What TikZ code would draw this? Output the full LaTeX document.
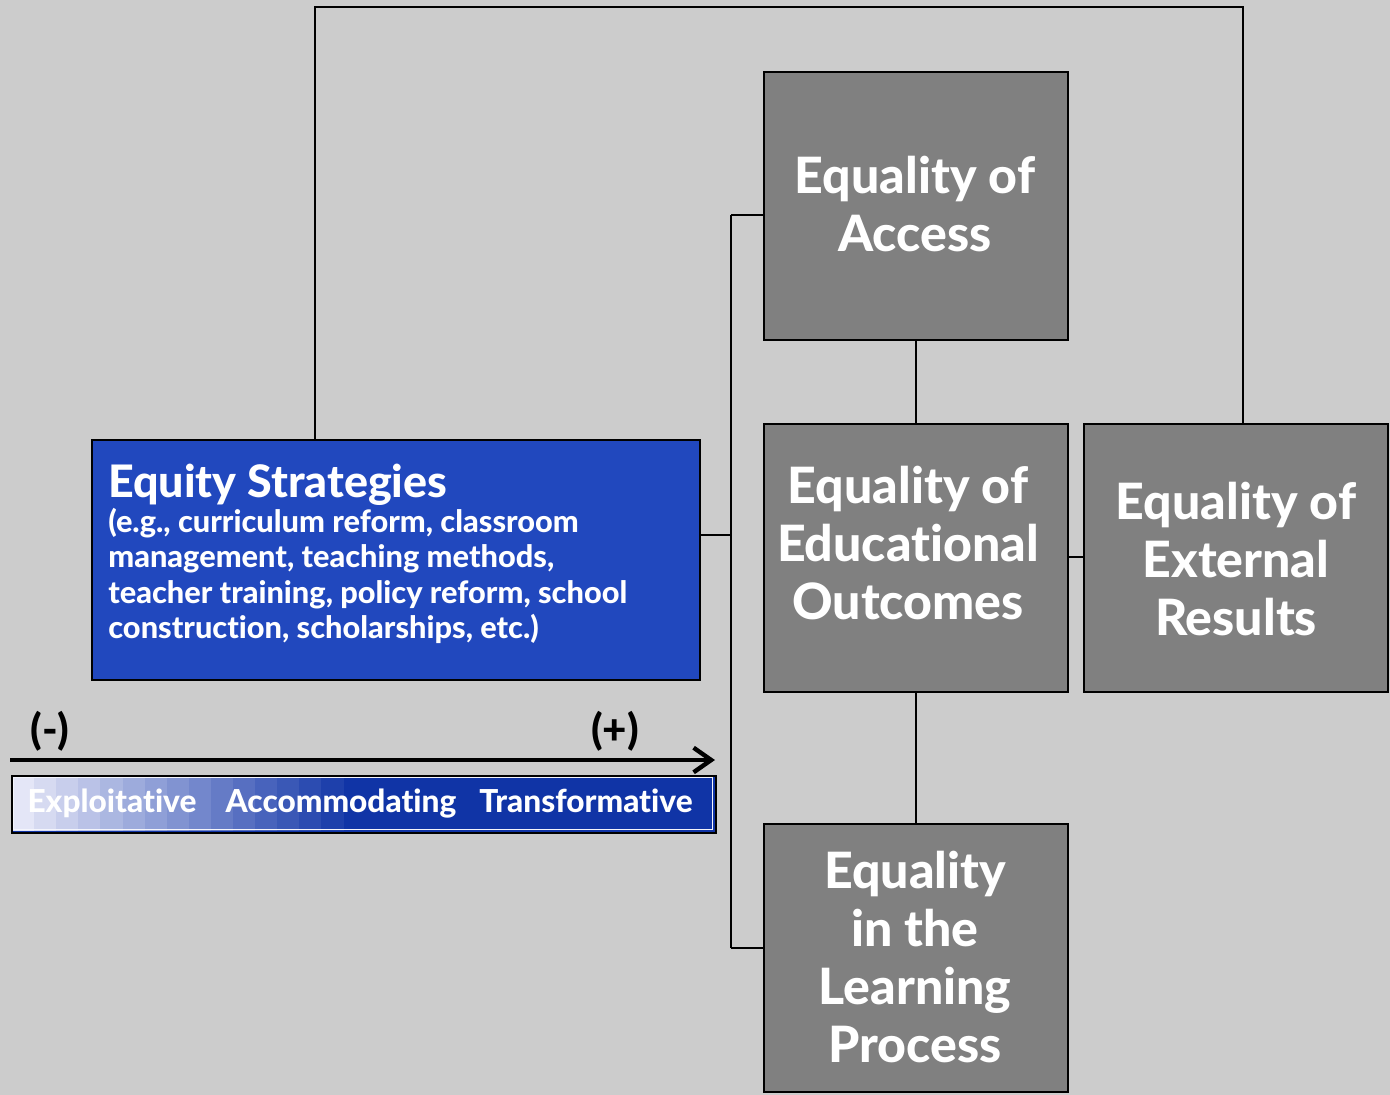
\documentclass[tikz,border=0pt]{standalone}
\usepackage{fontspec}
\setmainfont{Lato}[Ligatures=NoCommon, BoldFont={Lato Heavy}]
\usetikzlibrary{arrows.meta,calc}
\definecolor{bg}{RGB}{204,204,204}
\definecolor{gbox}{RGB}{128,128,128}
\definecolor{bbox}{RGB}{33,72,190}
\definecolor{dkb}{RGB}{16,52,166}
\definecolor{ltb}{RGB}{228,230,247}
\begin{document}
\begin{tikzpicture}[x=0.02cm,y=-0.02cm,
  graybox/.style={draw=black, line width=1.2pt, fill=gbox, minimum width=6.08cm, minimum height=5.36cm, inner sep=0pt, anchor=north west},
  title/.style={text=white, font=\bfseries\fontsize{28.5}{33}\selectfont, align=center, inner sep=0pt},
  conn/.style={draw=black, line width=1.15pt},
  barlab/.style={text=white, font=\bfseries\fontsize{18}{20}\selectfont, inner sep=0pt, anchor=base},
  sign/.style={text=black, font=\bfseries\fontsize{24}{28}\selectfont, inner sep=0pt, anchor=base}]
\fill[bg] (0,0) rectangle (1390,1095);
\useasboundingbox (0,0) rectangle (1390,1095);

% coordinates for connectors
\coordinate (tl) at (315,7);
\coordinate (tr) at (1243,7);
\coordinate (bt) at (731,215);
\coordinate (bb) at (731,948);
\coordinate (arrL) at (10,760);
\coordinate (arrR) at (715,760);

% connectors (drawn first, under boxes)
\path[conn] (315,439) -- (tl) -- (tr) -- (1243,423);
\path[conn] (731,535) -- (699,535);
\path[conn] (bt) -- (bb);

% boxes
\node[graybox] (acc) at (763,71) {};
\node[graybox] (out) at (763,423) {};
\node[graybox] (ext) at (1083,423) {};
\node[graybox] (lrn) at (763,823) {};
\node[draw=black, line width=1.2pt, fill=bbox, minimum width=12.16cm, minimum height=4.8cm, anchor=north west, inner sep=0pt] (es) at (91,439) {};

% box-to-box connectors
\path[conn] (acc.south) -- (out.north);
\path[conn] (out.south) -- (lrn.north);
\path[conn] (out.east |- 0,557) -- (ext.west |- 0,557);
\path[conn] (acc.west |- bt) -- (bt);
\path[conn] (lrn.west |- bb) -- (bb);

% box texts
\node[title] (accT) at (915,204) {Equality of\\Access};
\node[title] (outT) at (908,543) {Equality of\\Educational\\Outcomes};
\node[title] (extT) at (1236,559) {Equality of\\External\\Results};
\node[title] (lrnT) at (915,957) {Equality\\in the\\Learning\\Process};

\node[text=white, font=\bfseries\fontsize{25.5}{30}\selectfont, anchor=base west, inner sep=0pt] (esT) at (108,497) {Equity Strategies};
\node[text=white, font=\bfseries\fontsize{17.5}{20.1}\selectfont, anchor=north west, align=left, inner sep=0pt] (esS) at (108,508) {(e.g., curriculum reform, classroom\\management, teaching methods,\\teacher training, policy reform, school\\construction, scholarships, etc.)};

% arrow and signs
\draw[line width=2.5pt, -{Straight Barb[length=10pt,width=14pt,line width=2.5pt]}] (arrL) -- (arrR);
\node[sign] (minus) at (50,744) {(-)};
\node[sign] (plus) at (615,744) {(+)};

% gradient bar
\fill[dkb] (11,775) rectangle (715,832);
\foreach \i in {0,...,14}{
  \pgfmathsetmacro\p{100*\i/15}
  \fill[dkb!\p!ltb] (12+22.1*\i,776) rectangle (12+22.1*\i+22.3,831);
}
\draw[white!60!ltb, line width=0.6pt] (13.5,777.5) rectangle (712.5,829.5);
\node[draw=black, line width=1.2pt, minimum width=14.08cm, minimum height=1.14cm, anchor=north west, inner sep=0pt] (bar) at (11,775) {};
\node[barlab] (l1) at (112,812) {Exploitative};
\node[barlab] (l2) at (341,812) {Accommodating};
\node[barlab] (l3) at (586,812) {Transformative};
\end{tikzpicture}
\end{document}
